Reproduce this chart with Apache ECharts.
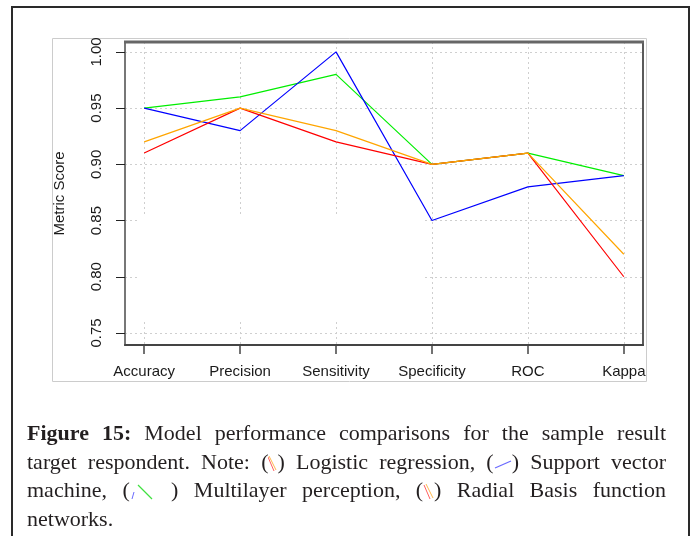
<!DOCTYPE html>
<html>
<head>
<meta charset="utf-8">
<script src="https://cdn.jsdelivr.net/npm/echarts@6/dist/echarts.min.js"></script>
<style>
  html, body { margin: 0; padding: 0; background: #fff; width: 697px; height: 536px; overflow: hidden; }
  #frame { position: absolute; left: 11px; top: 6px; width: 675px; height: 600px; border: 2px solid #2a2a2a; border-bottom: none; }
  #chart { position: absolute; left: 0; top: 0; width: 697px; height: 536px; }
  #caption { position: absolute; left: 27px; top: 419px; width: 639px; font-family: "Liberation Serif", "DejaVu Serif", serif; font-size: 22px; line-height: 28.5px; color: #231f20; }
  #caption .ln { text-align: justify; text-align-last: justify; white-space: nowrap; }
  #caption .last { text-align: left; text-align-last: left; }
  #caption svg { vertical-align: -3px; }
</style>
</head>
<body>
<div id="frame"></div>
<div id="chart"></div>
<div id="caption">
  <div class="ln"><b>Figure 15:</b> Model performance comparisons for the sample result</div>
  <div class="ln">target respondent. Note: (<svg width="9" height="18"><line x1="1" y1="2" x2="8" y2="16" stroke="#ffb84d" stroke-width="1"/><line x1="0" y1="3" x2="6" y2="17" stroke="#ff6060" stroke-width="1"/></svg>) Logistic regression, (<svg width="18" height="18"><line x1="1" y1="14" x2="17" y2="7" stroke="#6a6aff" stroke-width="1.3"/></svg>) Support vector</div>
  <div class="ln">machine, (<svg width="26" height="18"><line x1="8" y1="3" x2="22" y2="17" stroke="#40e040" stroke-width="1.2"/><line x1="4" y1="10" x2="2" y2="17" stroke="#6a6aff" stroke-width="1"/></svg>&nbsp;) Multilayer perception, (<svg width="11" height="18"><line x1="3" y1="2" x2="10" y2="16" stroke="#ffb84d" stroke-width="1"/><line x1="1" y1="3" x2="7" y2="17" stroke="#ff6060" stroke-width="1"/></svg>) Radial Basis function</div>
  <div class="ln last">networks.</div>
</div>
<script>
// ---- data ----
var categories = ["Accuracy", "Precision", "Sensitivity", "Specificity", "ROC", "Kappa"];
var logisticRegression = [0.91, 0.95, 0.92, 0.90, 0.91, 0.80];
var supportVectorMachine = [0.95, 0.93, 1.00, 0.85, 0.88, 0.89];
var multilayerPerception = [0.95, 0.96, 0.98, 0.90, 0.91, 0.89];
var radialBasisFunction = [0.92, 0.95, 0.93, 0.90, 0.91, 0.82];
var yTicks = [0.75, 0.80, 0.85, 0.90, 0.95, 1.00];
var yAxisTitle = "Metric Score";

function pairs(arr) { return arr.map(function (v, i) { return [i, v]; }); }
var xTicks = categories.map(function (c, i) { return i; });

var chart = echarts.init(document.getElementById('chart'), null, { renderer: 'canvas' });
var font = '"Liberation Sans", Arial, sans-serif';
var gridLine = { show: true, lineStyle: { color: '#cfcfcf', type: [2, 3], width: 1 } };

chart.setOption({
  animation: false,
  backgroundColor: 'transparent',
  grid: { left: 125, right: 54, top: 42, bottom: 191, show: true, borderColor: '#5a5a5a', borderWidth: 2, backgroundColor: 'transparent' },
  xAxis: {
    type: 'value', min: -0.2, max: 5.2,
    axisLine: { show: true, onZero: false, lineStyle: { color: '#444', width: 2 } },
    axisTick: { show: true, length: 9, customValues: xTicks, lineStyle: { color: '#444', width: 1.5 } },
    axisLabel: { customValues: xTicks, margin: 19, fontFamily: font, fontSize: 15, color: '#1a1a1a',
      formatter: function (v) { return categories[Math.round(v)]; } },
    splitLine: gridLine
  },
  yAxis: {
    type: 'value', min: 0.7393, max: 1.0088,
    name: yAxisTitle, nameLocation: 'middle', nameGap: 58, nameRotate: 90,
    nameTextStyle: { fontFamily: font, fontSize: 15, color: '#1a1a1a' },
    axisLine: { show: true, onZero: false, lineStyle: { color: '#777', width: 2 } },
    axisTick: { show: true, length: 9, customValues: yTicks, lineStyle: { color: '#222', width: 1 } },
    axisLabel: { customValues: yTicks, rotate: 90, margin: 21, fontFamily: font, fontSize: 15, color: '#1a1a1a',
      formatter: function (v) { return v.toFixed(2); } },
    splitLine: gridLine
  },
  graphic: [
    { type: 'rect', shape: { x: 52.5, y: 38.5, width: 594, height: 343 }, style: { fill: null, stroke: '#cccccc', lineWidth: 1 }, z: 0, silent: true },
    { type: 'rect', shape: { x: 137, y: 217, width: 286, height: 103 }, style: { fill: '#fff' }, z: 5, silent: true },
    { type: 'line', shape: { x1: 124, y1: 42, x2: 644, y2: 42 }, style: { stroke: '#666', lineWidth: 3 }, z: 6, silent: true }
  ],
  series: [
    { name: 'Multilayer perception', type: 'line', data: pairs(multilayerPerception), showSymbol: false, lineStyle: { color: '#00ee00', width: 1.2 }, z: 10 },
    { name: 'Support vector machine', type: 'line', data: pairs(supportVectorMachine), showSymbol: false, lineStyle: { color: '#0000ff', width: 1.2 }, z: 10 },
    { name: 'Logistic regression', type: 'line', data: pairs(logisticRegression), showSymbol: false, lineStyle: { color: '#ff0000', width: 1.2 }, z: 10 },
    { name: 'Radial Basis function networks', type: 'line', data: pairs(radialBasisFunction), showSymbol: false, lineStyle: { color: '#ffa500', width: 1.2 }, z: 10 }
  ]
});
</script>
</body>
</html>
